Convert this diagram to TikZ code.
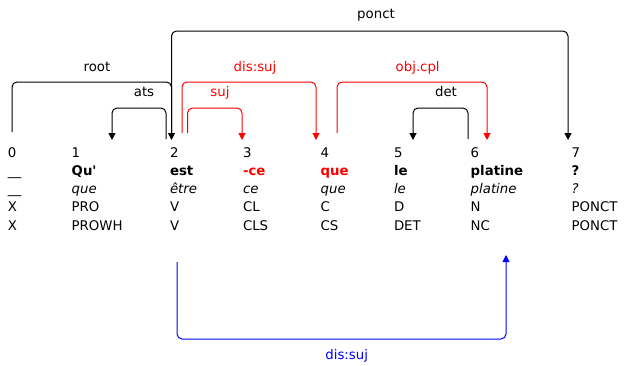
\documentclass[tikz,border=0pt]{standalone}
\usepackage{fontspec}
\newfontfamily\dv{DejaVu Sans}
\usetikzlibrary{arrows.meta}
\definecolor{dred}{RGB}{255,0,0}
\definecolor{dblue}{RGB}{0,0,255}
\begin{document}
\begin{tikzpicture}[x=1pt,y=-1pt,
  every node/.style={inner sep=0pt,outer sep=0pt,font=\dv\fontsize{13.3}{15}\selectfont},
  tok/.style={anchor=base west},
  lab/.style={anchor=base},
  arc/.style={line width=1pt,rounded corners=5pt,-{Triangle[length=7pt,width=7pt]}},
  redarc/.style={arc,dred},
  bluearc/.style={arc,dblue},
  wd/.style={tok,font=\dv\fontsize{13.3}{15}\selectfont\bfseries},
  lm/.style={tok,font=\dv\fontsize{13.3}{15}\selectfont\itshape}]
\useasboundingbox (0,0) rectangle (624,365);
% row 0: indices
\foreach \i/\x in {0/8,1/71.7,2/170,3/243,4/320.7,5/394,6/470.7,7/571.7}{
  \node[tok] (n\i) at (\x,157) {\i};
}
% row 1: words
\node[tok] (w0) at (8,175.3) {\_\_};
\node[wd] (w1) at (71.7,175.3) {Qu'};
\node[wd] (w2) at (170,175.3) {est};
\node[wd,text=dred] (w3) at (243,175.3) {-ce};
\node[wd,text=dred] (w4) at (320.7,175.3) {que};
\node[wd] (w5) at (394,175.3) {le};
\node[wd] (w6) at (470.7,175.3) {platine};
\node[wd] (w7) at (571.7,175.3) {?};
% row 2: lemmas
\node[tok] (l0) at (8,193.5) {\_\_};
\node[lm] (l1) at (71.7,193.5) {que};
\node[lm] (l2) at (170,193.5) {être};
\node[lm] (l3) at (243,193.5) {ce};
\node[lm] (l4) at (320.7,193.5) {que};
\node[lm] (l5) at (394,193.5) {le};
\node[lm] (l6) at (470.7,193.5) {platine};
\node[lm] (l7) at (571.7,193.5) {?};
% row 3: cat
\foreach \i/\x/\t in {0/8/X,1/71.7/PRO,2/170/V,3/243/CL,4/320.7/C,5/394/D,6/470.7/N,7/571.7/PONCT}{
  \node[tok] (c\i) at (\x,211.8) {\t};
}
% row 4: pos
\foreach \i/\x/\t in {0/8/X,1/71.7/PROWH,2/170/V,3/243/CLS,4/320.7/CS,5/394/DET,6/470.7/NC,7/571.7/PONCT}{
  \node[tok] (p\i) at (\x,230) {\t};
}
% anchor coordinates for arcs
\coordinate (r0) at (12,132);
\coordinate (r2) at (171.5,140);
\coordinate (pc2) at (171.5,133);
\coordinate (pc7) at (568,140);
\coordinate (a2) at (166,139);
\coordinate (a1) at (112,140);
\coordinate (ds2) at (182,133);
\coordinate (ds4) at (316,140);
\coordinate (s2) at (187.5,133);
\coordinate (s3) at (242,140);
\coordinate (o4) at (337,133);
\coordinate (o6) at (487,140);
\coordinate (d6) at (468,139);
\coordinate (d5) at (413,140);
\coordinate (b2) at (177,262);
\coordinate (b6) at (506,255);
% arcs
\draw[arc] (r0) -- (r0|-0,82) -- (r2|-0,82) -- (r2);
\draw[arc] (pc2) -- (pc2|-0,31) -- (pc7|-0,31) -- (pc7);
\draw[arc] (a2) -- (a2|-0,108) -- (a1|-0,108) -- (a1);
\draw[redarc] (ds2) -- (ds2|-0,82) -- (ds4|-0,82) -- (ds4);
\draw[redarc] (s2) -- (s2|-0,108) -- (s3|-0,108) -- (s3);
\draw[redarc] (o4) -- (o4|-0,82) -- (o6|-0,82) -- (o6);
\draw[arc] (d6) -- (d6|-0,108) -- (d5|-0,108) -- (d5);
\draw[bluearc] (b2) -- (b2|-0,339) -- (b6|-0,339) -- (b6);
% labels
\node[lab] (lroot) at (97,71.5) {root};
\node[lab] (lponct) at (376,18.3) {ponct};
\node[lab] (lats) at (144,96) {ats};
\node[lab,text=dred] (ldissuj) at (255,71.5) {dis:suj};
\node[lab,text=dred] (lsuj) at (220,96) {suj};
\node[lab,text=dred] (lobj) at (417.7,71.5) {obj.cpl};
\node[lab] (ldet) at (446,96) {det};
\node[lab,text=dblue] (lblue) at (346.7,359) {dis:suj};
\end{tikzpicture}
\end{document}
